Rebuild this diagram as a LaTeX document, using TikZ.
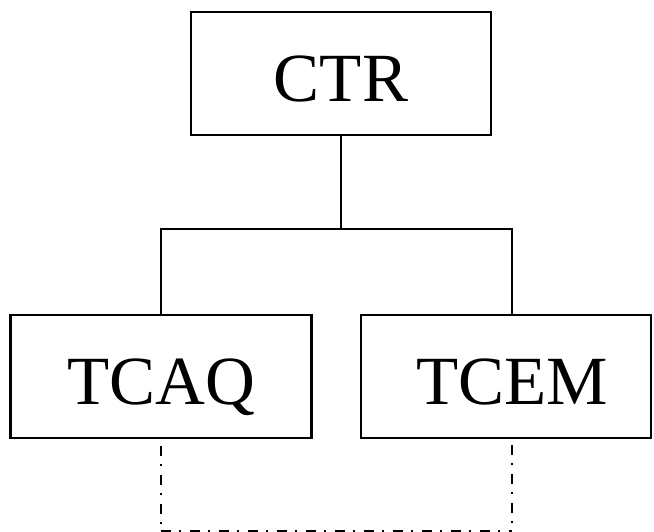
\documentclass[tikz,border=0pt]{standalone}
\usepackage{fontspec}
\setmainfont{Liberation Serif}
\begin{document}
\begin{tikzpicture}[x=1pt,y=-1pt,
  box/.style={draw, line width=2.3pt, minimum height=123pt, inner sep=0pt,
    text height=55pt, text depth=0pt, font=\fontsize{69}{69}\selectfont},
  link/.style={line width=2.3pt},
  dashdot/.style={line width=2.3pt, dash pattern=on 10pt off 8pt on 2pt off 9pt}]
\useasboundingbox (0,0) rectangle (654,531);
\node[box, minimum width=300pt] (ctr) at (341,73.5) {CTR};
\node[box, minimum width=301pt] (tcaq) at (161,376.5) {TCAQ};
\node[box, minimum width=290pt] (tcem) at (506,376.5) {\hspace{12pt}TCEM};
\coordinate (bar) at (341,229);
\coordinate (lt) at (161,229);
\coordinate (rt) at (512,229);
\coordinate (rb) at (512,315);
\coordinate (lbot) at (161,531.6);
\coordinate (rbot) at (512,531.6);
\coordinate (rtop) at (512,438);
\draw[link] (ctr.south) -- (bar);
\draw[link] (tcaq.north) -- (lt) -- (rt) -- (rb);
\draw[dashdot, dash phase=22pt] (tcaq.south) -- (lbot);
\draw[dashdot, dash phase=22pt] (rtop) -- (rbot);
\draw[dashdot] (lbot) -- (rbot);
\end{tikzpicture}
\end{document}
